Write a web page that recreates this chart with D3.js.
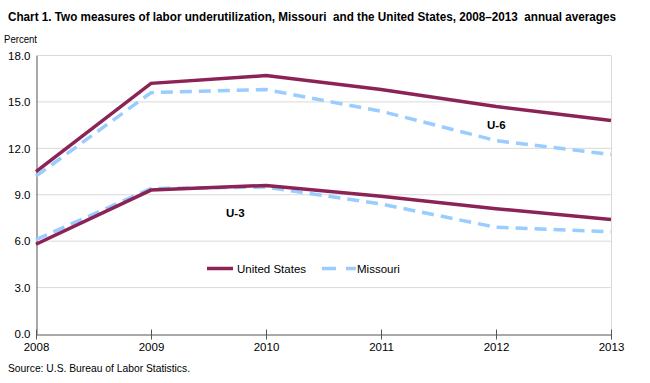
<!DOCTYPE html>
<html><head><meta charset="utf-8">
<script src="https://cdn.jsdelivr.net/npm/d3@7"></script>
<style>body{margin:0;background:#fff}svg{display:block;font-family:"Liberation Sans",Arial,sans-serif}</style>
</head><body><svg id="c" width="650" height="383"></svg>
<script>
const years = [2008, 2009, 2010, 2011, 2012, 2013];
const usU6 = [10.5, 16.2, 16.7, 15.8, 14.7, 13.8];
const moU6 = [10.2, 15.6, 15.8, 14.4, 12.5, 11.6];
const usU3 = [5.8, 9.3, 9.6, 8.9, 8.1, 7.4];
const moU3 = [6.1, 9.4, 9.5, 8.4, 6.9, 6.6];
const yTicks = [0, 3, 6, 9, 12, 15, 18];

const svg = d3.select("#c");
const x = d3.scaleLinear().domain([2008, 2013]).range([36, 611]);
const y = d3.scaleLinear().domain([0, 18]).range([334, 55.5]);
const US = "#8c2356", MO = "#99ccff";

svg.append("text").attr("x", 8).attr("y", 21).attr("font-size", 12).attr("font-weight", "bold")
  .style("white-space", "pre")
  .attr("fill", "#000").attr("textLength", 608).attr("lengthAdjust", "spacingAndGlyphs")
  .text("Chart 1. Two measures of labor underutilization, Missouri  and the United States, 2008\u20132013  annual averages");
svg.append("text").attr("x", 4).attr("y", 43).attr("font-size", 10).attr("textLength", 33).attr("lengthAdjust","spacingAndGlyphs").text("Percent");

// gridlines
svg.append("g").selectAll("line").data(yTicks.filter(d => d > 0)).join("line")
  .attr("x1", 36).attr("x2", 611).attr("y1", d => y(d)).attr("y2", d => y(d))
  .attr("stroke", "#d9d9d9").attr("stroke-width", 1);
// right border
svg.append("line").attr("x1", 611.5).attr("x2", 611.5).attr("y1", y(18)).attr("y2", y(0)).attr("stroke", "#d9d9d9");

// y axis
const ya = svg.append("g").attr("transform", "translate(36.5,0)")
  .call(d3.axisLeft(y).tickValues(yTicks).tickFormat(d3.format(".1f")).tickSize(0).tickPadding(6));
ya.select(".domain").attr("stroke", "#555");
ya.selectAll("text").attr("font-size", 11.5).attr("fill", "#000").attr("font-family", "Liberation Sans, Arial");

// x axis
const xa = svg.append("g").attr("transform", "translate(0,334.5)")
  .call(d3.axisBottom(x).tickValues(years).tickFormat(d3.format("d")).tickSize(5).tickSizeOuter(0).tickPadding(3));
xa.select(".domain").attr("stroke", "#555");
xa.selectAll("line").attr("stroke", "#555");
xa.selectAll("text").attr("font-size", 11.5).attr("fill", "#000").attr("font-family", "Liberation Sans, Arial");
xa.selectAll(".tick line").attr("y1", -5);

const line = d3.line().x((d, i) => x(years[i])).y(d => y(d));
function draw(data, color, dash) {
  svg.append("path").datum(data).attr("d", line).attr("fill", "none")
    .attr("stroke", color).attr("stroke-width", 3.5).attr("stroke-dasharray", dash || null);
}
draw(moU6, MO, "12,7");
draw(moU3, MO, "12,7");
draw(usU6, US);
draw(usU3, US);

svg.append("text").attr("x", 487).attr("y", 129).attr("font-size", 11.5).attr("font-weight", "bold").text("U-6");
svg.append("text").attr("x", 226).attr("y", 217).attr("font-size", 11.5).attr("font-weight", "bold").text("U-3");

// legend
svg.append("line").attr("x1", 207).attr("x2", 233).attr("y1", 268.5).attr("y2", 268.5).attr("stroke", US).attr("stroke-width", 3.5);
svg.append("text").attr("x", 237).attr("y", 272.5).attr("font-size", 11.5).text("United States");
svg.append("line").attr("x1", 322).attr("x2", 356).attr("y1", 268.5).attr("y2", 268.5).attr("stroke", MO).attr("stroke-width", 3.5).attr("stroke-dasharray", "14,10");
svg.append("text").attr("x", 357).attr("y", 272.5).attr("font-size", 11.5).text("Missouri");

svg.append("text").attr("x", 8).attr("y", 372).attr("font-size", 11).attr("textLength", 182).attr("lengthAdjust","spacingAndGlyphs").text("Source: U.S. Bureau of Labor Statistics.");
</script></body></html>
